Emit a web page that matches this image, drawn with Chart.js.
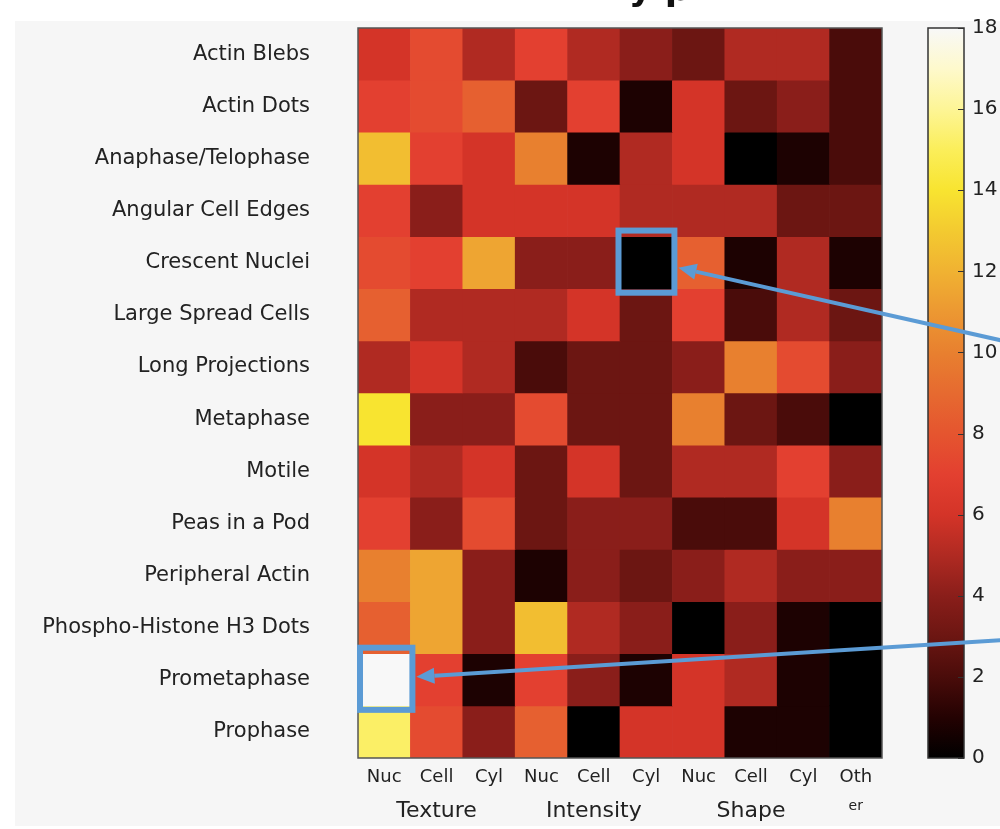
<!DOCTYPE html>
<html>
<head>
<meta charset="utf-8">
<script src="https://cdn.jsdelivr.net/npm/chart.js@4.4.0/dist/chart.umd.min.js"></script>
<style>
  html, body { margin: 0; padding: 0; background: #fff; }
  #marco { position: relative; width: 1000px; height: 829px; overflow: hidden; }
  #panel { position: absolute; left: 15px; top: 21px; width: 985px; height: 805px; background: #f6f6f6; }
  canvas { position: absolute; top: 0; }
  #barra { left: 880px; z-index: 1; }
  #mapa { left: 0; z-index: 2; }
</style>
</head>
<body>
<div id="marco">
  <div id="panel"></div>
  <canvas id="barra" width="120" height="829"></canvas>
  <canvas id="mapa" width="1000" height="829"></canvas>
</div>
<script>
const filas = ['Actin Blebs', 'Actin Dots', 'Anaphase/Telophase', 'Angular Cell Edges', 'Crescent Nuclei',
  'Large Spread Cells', 'Long Projections', 'Metaphase', 'Motile', 'Peas in a Pod', 'Peripheral Actin',
  'Phospho-Histone H3 Dots', 'Prometaphase', 'Prophase'];
const columnas = ['Nuc', 'Cell', 'Cyl', 'Nuc', 'Cell', 'Cyl', 'Nuc', 'Cell', 'Cyl', 'Oth'];
const grupos = ['', 'Texture', '', '', 'Intensity', '', '', 'Shape', '', 'er'];

// valores por fila (una fila por fenotipo, una columna por tipo de rasgo)
const valores = [
  [6, 7.5, 5, 7, 5, 4, 3, 5, 5, 2],
  [7, 7.5, 8.5, 3, 7, 0.8, 6, 3, 4, 2],
  [12.5, 7, 6, 10, 0.8, 5, 6, 0, 0.8, 2],
  [7, 4, 6, 6, 6, 5, 5, 5, 3, 3],
  [7.5, 7, 11.5, 4, 4, 0, 8.5, 0.8, 5, 0.8],
  [8.5, 5, 5, 5, 6, 3, 7, 2, 5, 3],
  [5, 6, 5, 2, 3, 3, 4, 10, 7.5, 4],
  [14, 4, 4, 7.5, 3, 3, 10, 3, 2, 0],
  [6, 5, 6, 3, 6, 3, 5, 5, 7, 4],
  [7, 4, 7.5, 3, 4, 4, 2, 2, 6, 10],
  [10, 11.5, 4, 0.8, 4, 3, 4, 5, 4, 4],
  [8.5, 11.5, 4, 12.5, 5, 4, 0, 4, 0.8, 0],
  [18, 7, 0.8, 7, 4, 0.8, 6, 5, 0.8, 0],
  [15.2, 7.5, 4, 8.5, 0, 6, 6, 0.8, 0.8, 0]
];

const escalaMin = 0;
const escalaMax = 18;
const escalaPaso = 2;

// mapa de color tipo "hot"
const cmapValores = [0, 1, 2, 3, 4, 5, 6, 7, 8, 9, 10, 11, 12, 13, 14, 15, 16, 17, 18];
const cmapColores = ['#000000', '#240202', '#4a0c0a', '#6c1612', '#8a1e1a', '#b02a22', '#d43428', '#e34030',
  '#e5552f', '#e66a30', '#e8802f', '#ec9832', '#f0b232', '#f3ca30', '#f8e430', '#fbee5a', '#fdf596', '#fef9cc', '#f8f8f8'];

// celdas marcadas en azul [fila, columna]
const marcadas = [[4, 5], [12, 0]];

const fuente = "'DejaVu Sans', 'Liberation Sans', Arial, sans-serif";
const azul = '#5b9bd5';

function hexARgb(h) {
  return [parseInt(h.slice(1, 3), 16), parseInt(h.slice(3, 5), 16), parseInt(h.slice(5, 7), 16)];
}

function colorPara(v) {
  if (v <= cmapValores[0]) return cmapColores[0];
  for (let i = 1; i < cmapValores.length; i++) {
    if (v <= cmapValores[i]) {
      const t = (v - cmapValores[i - 1]) / (cmapValores[i] - cmapValores[i - 1]);
      const a = hexARgb(cmapColores[i - 1]);
      const b = hexARgb(cmapColores[i]);
      const c = a.map((x, k) => Math.round(x + (b[k] - x) * t));
      return `rgb(${c[0]},${c[1]},${c[2]})`;
    }
  }
  return cmapColores[cmapColores.length - 1];
}

/* grafico del mapa de calor */
const datasetsMapa = valores.map((fila, i) => ({
  label: filas[i],
  data: fila.map(() => [i, i + 1]),
  backgroundColor: fila.map(v => colorPara(v)),
  borderWidth: 0,
  barPercentage: 1,
  categoryPercentage: 1,
  grouped: false,
  xAxisID: 'x',
  yAxisID: 'y'
}));

function rectCelda(chart, fila, col) {
  const x = chart.scales.x;
  const y = chart.scales.y;
  const mitad = (x.getPixelForValue(1) - x.getPixelForValue(0)) / 2;
  const cx = x.getPixelForValue(col);
  return { left: cx - mitad, right: cx + mitad, top: y.getPixelForValue(fila), bottom: y.getPixelForValue(fila + 1) };
}

function flecha(ctx, x0, y0, x1, y1) {
  const ang = Math.atan2(y1 - y0, x1 - x0);
  const largo = 18;
  const ancho = 8;
  const bx = x1 - largo * Math.cos(ang);
  const by = y1 - largo * Math.sin(ang);
  ctx.beginPath();
  ctx.moveTo(x0, y0);
  ctx.lineTo(bx, by);
  ctx.stroke();
  ctx.beginPath();
  ctx.moveTo(x1, y1);
  ctx.lineTo(bx + ancho * Math.sin(ang), by - ancho * Math.cos(ang));
  ctx.lineTo(bx - ancho * Math.sin(ang), by + ancho * Math.cos(ang));
  ctx.closePath();
  ctx.fill();
}

const origenesFlecha = [[1004, 341], [1004, 640]];

const pluginMarcos = {
  id: 'marcos',
  afterDraw(chart) {
    const ctx = chart.ctx;
    const area = chart.chartArea;
    ctx.save();
    ctx.strokeStyle = '#555';
    ctx.lineWidth = 1.5;
    ctx.strokeRect(area.left, area.top, area.right - area.left, area.bottom - area.top);

    // titulo cortado arriba
    ctx.fillStyle = '#111';
    ctx.font = "bold 36px " + fuente;
    ctx.textBaseline = 'alphabetic';
    ctx.textAlign = 'left';
    ctx.fillText('ny p', 603, 0);

    ctx.strokeStyle = azul;
    ctx.fillStyle = azul;
    marcadas.forEach(([f, c], k) => {
      const r = rectCelda(chart, f, c);
      const izq = Math.max(r.left - 1.5, area.left + 2);
      const der = r.right + 2;
      const arr = r.top - 6;
      const aba = r.bottom + 4;
      ctx.lineWidth = 6;
      ctx.strokeRect(izq, arr, der - izq, aba - arr);
      ctx.lineWidth = 4;
      const [ox, oy] = origenesFlecha[k];
      flecha(ctx, ox, oy, der + 4, (r.top + r.bottom) / 2 + (k === 0 ? 5 : -3));
    });
    ctx.restore();
  }
};

new Chart(document.getElementById('mapa').getContext('2d'), {
  type: 'bar',
  data: { labels: columnas, datasets: datasetsMapa },
  options: {
    responsive: false,
    animation: false,
    layout: { padding: { top: 28, right: 118, left: 0, bottom: 0 } },
    plugins: { legend: { display: false }, tooltip: { enabled: false } },
    scales: {
      x: {
        type: 'category',
        position: 'bottom',
        weight: 1,
        offset: true,
        grid: { display: false, drawTicks: false },
        border: { display: false },
        ticks: { color: '#222', font: { family: fuente, size: 18 }, padding: 9, maxRotation: 0, autoSkip: false },
        afterFit: s => { s.height = 40; s.paddingLeft = 0; s.paddingRight = 0; }
      },
      grupos: {
        type: 'category',
        labels: grupos,
        position: 'bottom',
        weight: 2,
        offset: true,
        grid: { display: false, drawTicks: false },
        border: { display: false },
        ticks: {
          color: '#222',
          font: c => ({ family: fuente, size: c.index === 9 ? 14 : 22 }),
          padding: 0,
          maxRotation: 0,
          autoSkip: false
        },
        afterFit: s => { s.height = 31; s.paddingLeft = 0; s.paddingRight = 0; }
      },
      y: {
        type: 'linear',
        reverse: true,
        min: 0,
        max: filas.length,
        grid: { display: false, drawTicks: false },
        border: { display: false },
        afterBuildTicks: s => { s.ticks = filas.map((f, i) => ({ value: i + 0.5 })); },
        ticks: {
          color: '#222',
          font: { family: fuente, size: 21 },
          padding: 48,
          autoSkip: false,
          callback: (v, i) => filas[i]
        },
        afterFit: s => { s.width = 358; s.paddingTop = 0; s.paddingBottom = 0; }
      }
    }
  },
  plugins: [pluginMarcos]
});

/* barra de color */
const pluginBarra = {
  id: 'bordeBarra',
  afterDraw(chart) {
    const ctx = chart.ctx;
    const area = chart.chartArea;
    const y = chart.scales.y;
    ctx.save();
    ctx.strokeStyle = '#333';
    ctx.lineWidth = 1;
    for (let v = escalaMin; v <= escalaMax; v += escalaPaso) {
      const py = Math.round(y.getPixelForValue(v)) + 0.5;
      ctx.beginPath();
      ctx.moveTo(area.right - 6, py);
      ctx.lineTo(area.right, py);
      ctx.stroke();
    }
    ctx.lineWidth = 1.5;
    ctx.strokeRect(area.left, area.top, area.right - area.left, area.bottom - area.top);
    ctx.restore();
  }
};

new Chart(document.getElementById('barra').getContext('2d'), {
  type: 'bar',
  data: {
    labels: [''],
    datasets: [{
      data: [[escalaMin, escalaMax]],
      borderWidth: 0,
      barPercentage: 1,
      categoryPercentage: 1,
      backgroundColor: c => {
        const area = c.chart.chartArea;
        if (!area) return '#000';
        const y = c.chart.scales.y;
        const g = c.chart.ctx.createLinearGradient(0, y.getPixelForValue(escalaMin), 0, y.getPixelForValue(escalaMax));
        cmapValores.forEach((v, i) => g.addColorStop((v - escalaMin) / (escalaMax - escalaMin), cmapColores[i]));
        return g;
      }
    }]
  },
  options: {
    responsive: false,
    animation: false,
    layout: { padding: { left: 48, top: 28, bottom: 71, right: 0 } },
    plugins: { legend: { display: false }, tooltip: { enabled: false } },
    scales: {
      x: { display: false },
      y: {
        position: 'right',
        min: escalaMin,
        max: escalaMax,
        grid: { display: false, drawTicks: false },
        border: { display: false },
        ticks: { stepSize: escalaPaso, color: '#222', font: { family: fuente, size: 20 }, padding: 8 },
        afterFit: s => { s.width = 36; }
      }
    }
  },
  plugins: [pluginBarra]
});
</script>
</body>
</html>
